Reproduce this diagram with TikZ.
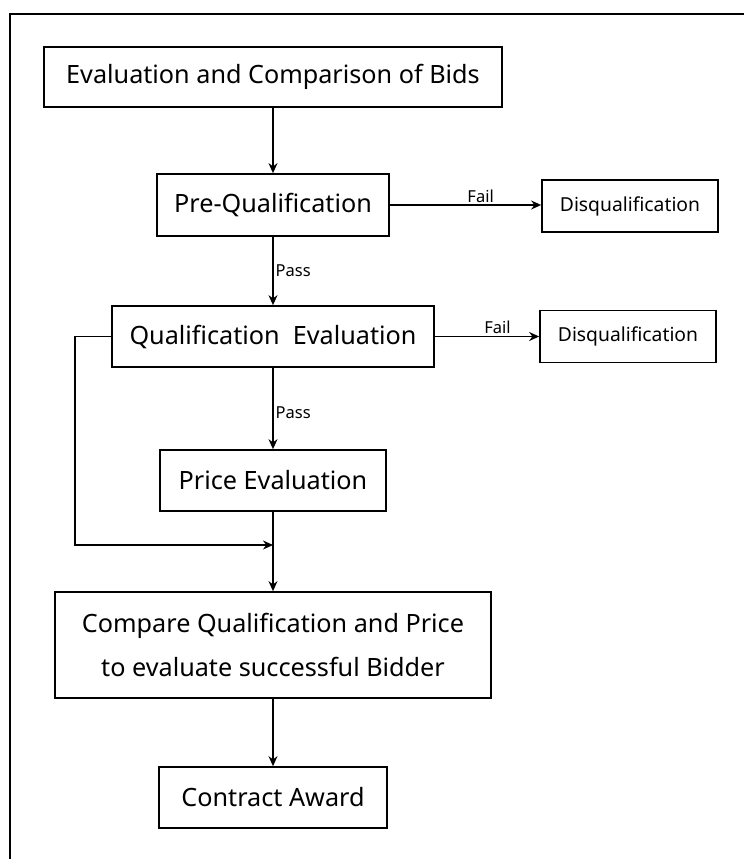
\documentclass[tikz,border=0pt]{standalone}
\usepackage{fontspec}
\setmainfont{Noto Sans}
\usetikzlibrary{arrows.meta}

\begin{document}
\begin{tikzpicture}[x=1pt,y=-1pt,line width=1.7pt,
  box/.style={draw,inner sep=0pt,align=center,font=\fontsize{25.2}{44}\selectfont},
  smallbox/.style={draw,inner sep=0pt,minimum width=176,minimum height=52,
    font=\fontsize{19.3}{23}\selectfont},
  lbl/.style={inner sep=2pt,font=\fontsize{16.5}{19}\selectfont},
  arr/.style={-{Stealth[length=10pt,width=9pt]},line width=1.4pt}]
\useasboundingbox (0,0) rectangle (744,859);
\draw[line width=1.8pt] (744,14) -- (10,14) -- (10,859);
\node[box,minimum width=458,minimum height=60] (bids) at (273,77) {Evaluation and Comparison of Bids};
\node[box,minimum width=232,minimum height=62] (preq) at (273,205) {Pre-Qualification};
\node[smallbox] (disqA) at (630,206) {Disqualification};
\node[box,minimum width=322,minimum height=61] (qual) at (273,336.5) {Qualification\ \ Evaluation};
\node[smallbox] (disqB) at (628,336.5) {Disqualification};
\node[box,minimum width=226,minimum height=61] (price) at (273,480.5) {Price Evaluation};
\node[box,minimum width=436,minimum height=106] (compare) at (273,645) {Compare Qualification and Price\\to evaluate successful Bidder};
\node[box,minimum width=228,minimum height=61] (award) at (273,797.5) {Contract Award};
\coordinate (bend) at (75,545);
\coordinate (join) at (273,545);
\draw[arr] (bids) -- (preq);
\draw[arr] (preq.east) -- node[lbl,above,pos=.6] {Fail} (preq.east -| disqA.west);
\draw[arr] (preq) -- node[lbl,right] {Pass} (qual);
\draw[arr] (qual.east) -- node[lbl,above,pos=.6] {Fail} (qual.east -| disqB.west);
\draw[arr] (qual) -- node[lbl,right,pos=.55] {Pass} (price);
\draw[arr] (qual.west) -| (bend) -- (join);
\draw[arr] (price) -- (compare);
\draw[arr] (compare) -- (award);
\end{tikzpicture}
\end{document}
